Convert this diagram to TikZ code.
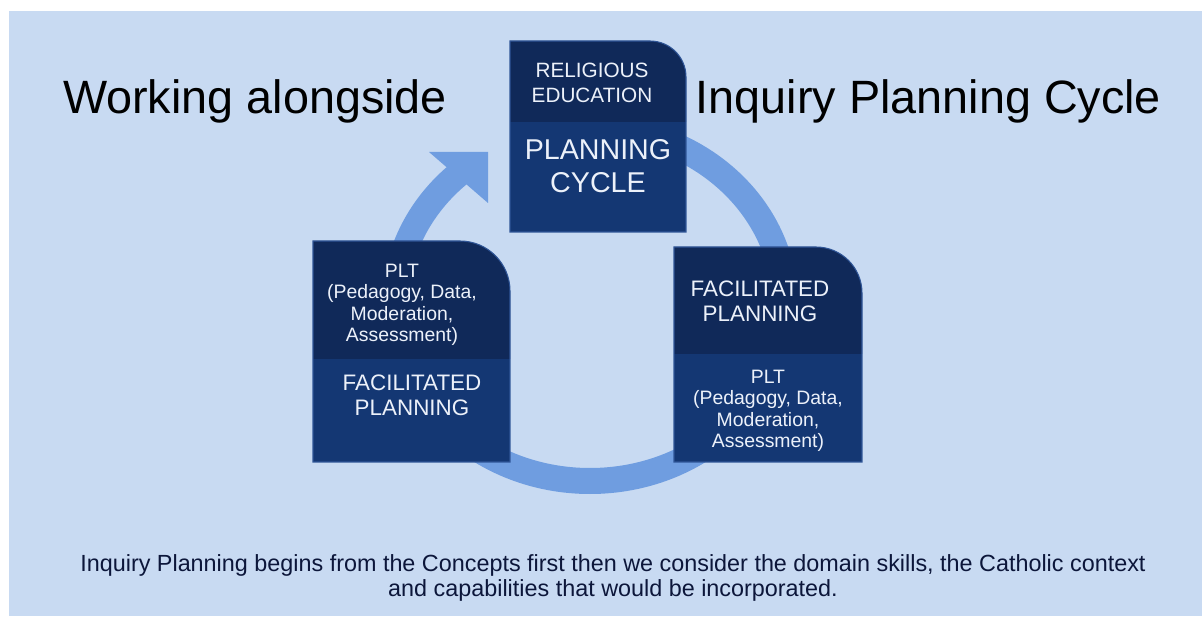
\documentclass[tikz,border=0pt]{standalone}
\usepackage{fontspec}
\setmainfont{Liberation Sans}
\usepackage{tikz}
\definecolor{bgblue}{RGB}{200,218,242}
\definecolor{ringblue}{RGB}{111,157,224}
\definecolor{boxdark}{RGB}{16,41,89}
\definecolor{boxmid}{RGB}{20,55,115}
\definecolor{boxedge}{RGB}{47,85,151}
\definecolor{textlight}{RGB}{236,241,250}
\definecolor{navytext}{RGB}{12,22,58}
\tikzset{ring/.style={line width=0.52cm,draw=ringblue},
ringhead/.style={fill=ringblue},
boxhead/.style={fill=boxdark},
boxbody/.style={fill=boxmid},
boxline/.style={draw=boxedge,line width=0.6pt},
boxtext/.style={text=textlight,align=center,inner sep=0pt},
capsmall/.style={font=\fontsize{11.8}{14.2}\selectfont},
capbig/.style={font=\fontsize{16.3}{18.7}\selectfont},
capmid/.style={font=\fontsize{12.75}{14.2}\selectfont},
plttext/.style={font=\fontsize{11.05}{12.2}\selectfont},
titletext/.style={font=\fontsize{26.6}{30}\selectfont,text=black,inner sep=0pt},
notetext/.style={font=\fontsize{13.3}{14.3}\selectfont,text=navytext,align=center,inner sep=0pt}}

\begin{document}
\begin{tikzpicture}
\useasboundingbox (0,0) rectangle (24.04,12.32);
\fill[bgblue] (0.18,0) rectangle (24.04,12.1);

% the cycle arrow, mostly hidden by the boxes
\draw[ring] (11.8,9.76) arc[start angle=90,end angle=-230,x radius=3.9cm,y radius=3.53cm];
\fill[ringhead] (8.58,9.28) -- (9.76,9.28) -- (9.76,8.26) -- cycle;

% top box
\fill[boxhead] (10.2,9.88) -- (10.2,11.5) -- (13.0,11.5) arc[start angle=90,end angle=0,radius=0.72] -- (13.72,9.88) -- cycle;
\fill[boxbody] (10.2,7.68) rectangle (13.72,9.88);
\draw[boxline] (10.2,7.68) -- (10.2,11.5) -- (13.0,11.5) arc[start angle=90,end angle=0,radius=0.72] -- (13.72,7.68) -- cycle;

% left box
\fill[boxhead] (6.26,5.14) -- (6.26,7.5) -- (9.2,7.5) arc[start angle=90,end angle=0,radius=1.0] -- (10.2,5.14) -- cycle;
\fill[boxbody] (6.26,3.08) rectangle (10.2,5.14);
\draw[boxline] (6.26,3.08) -- (6.26,7.5) -- (9.2,7.5) arc[start angle=90,end angle=0,radius=1.0] -- (10.2,3.08) -- cycle;

% right box
\fill[boxhead] (13.48,5.24) -- (13.48,7.38) -- (16.32,7.38) arc[start angle=90,end angle=0,radius=0.92] -- (17.24,5.24) -- cycle;
\fill[boxbody] (13.48,3.08) rectangle (17.24,5.24);
\draw[boxline] (13.48,3.08) -- (13.48,7.38) -- (16.32,7.38) arc[start angle=90,end angle=0,radius=0.92] -- (17.24,3.08) -- cycle;

\node (relhead) at (11.84,10.67) [boxtext,capsmall] {RELIGIOUS\\EDUCATION};
\node (relbody) at (11.96,8.99) [boxtext,capbig] {PLANNING\\CYCLE};
\node (lefthead) at (8.04,6.22) [boxtext,plttext] {PLT\\(Pedagogy, Data,\\Moderation,\\Assessment)};
\node (leftbody) at (8.24,4.41) [boxtext,capmid] {FACILITATED\\PLANNING};
\node (righthead) at (15.2,6.29) [boxtext,capmid] {FACILITATED\\PLANNING};
\node (rightbody) at (15.36,4.10) [boxtext,plttext] {PLT\\(Pedagogy, Data,\\Moderation,\\Assessment)};

\node (worktitle) at (5.1,10.04) [anchor=base,titletext] {Working alongside};
\node (cycletitle) at (18.57,10.04) [anchor=base,titletext] {Inquiry Planning Cycle};
\node (note) at (12.26,0.76) [notetext] {Inquiry Planning begins from the Concepts first then we consider the domain skills, the Catholic context\\and capabilities that would be incorporated.};
\end{tikzpicture}
\end{document}
